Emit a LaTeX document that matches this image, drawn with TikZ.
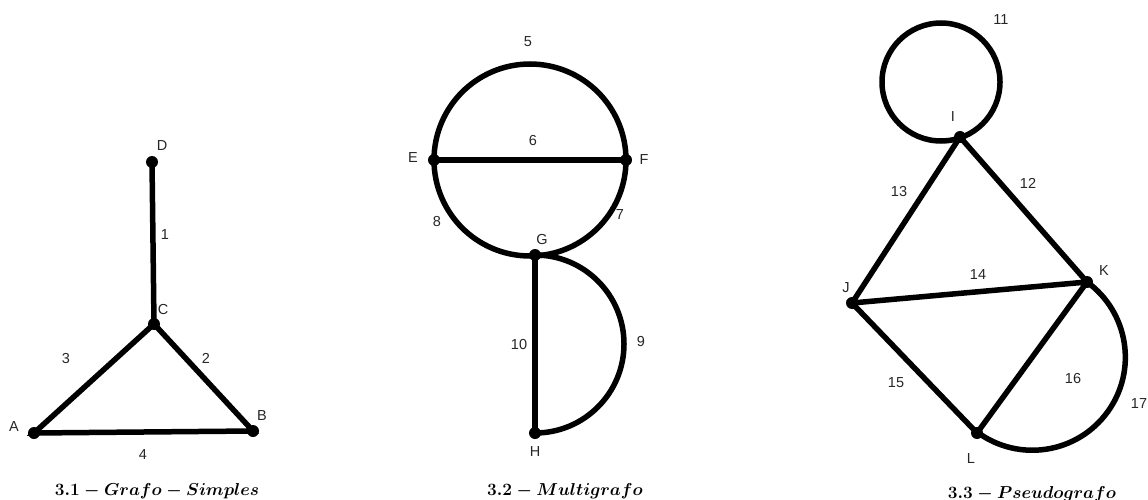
\documentclass[tikz,border=0pt]{standalone}
\usepackage{fontspec}
\setmainfont{Liberation Sans}
\begin{document}
\begin{tikzpicture}[x=1pt,y=-1pt,
  vtx/.style={circle,fill=black,inner sep=0pt,minimum size=12pt},
  edge/.style={line width=5.5pt},
  lbl/.style={font=\fontsize{14.5}{16}\selectfont,inner sep=0pt,text=black!85},
  captxt/.style={font=\fontsize{16.5}{18}\selectfont\boldmath,inner sep=0pt}]
\useasboundingbox (0,0) rectangle (1148,500);
% Graph 1
\node[vtx] (D) at (152,162) {};
\node[vtx] (C) at (154,324) {};
\node[vtx] (A) at (34,433) {};
\node[vtx] (B) at (253,431) {};
\draw[edge] (D.center) -- (C.center) -- (B.center) -- (A.center) -- (C.center);
\node[lbl] (lD) at (162,146) {D};
\node[lbl] (l1) at (165,235) {1};
\node[lbl] (lC) at (163,310) {C};
\node[lbl] (l3) at (66,359) {3};
\node[lbl] (l2) at (206,358) {2};
\node[lbl] (lA) at (14,427) {A};
\node[lbl] (lB) at (262,416) {B};
\node[lbl] (l4) at (143,455) {4};
\node[captxt] (c1) at (157,491) {$3.1 - Grafo - Simples$};
% Graph 2
\coordinate (O2) at (530,160);
\draw[edge] (O2) circle[radius=96];
\node[vtx] (E) at (434,160) {};
\node[vtx] (F) at (626,160) {};
\node[vtx] (G) at (535,255) {};
\node[vtx] (H) at (535,433) {};
\draw[edge] (E.center) -- (F.center);
\draw[edge] (G.center) -- (H.center);
\draw[edge] (G.center) arc[start angle=-90,end angle=90,radius=89];
\node[lbl] (l5) at (528,42) {5};
\node[lbl] (l6) at (533,141) {6};
\node[lbl] (lE) at (413,158) {E};
\node[lbl] (lF) at (644,160) {F};
\node[lbl] (l8) at (437,222) {8};
\node[lbl] (l7) at (620,215) {7};
\node[lbl] (lG) at (542,240) {G};
\node[lbl] (l10) at (519,345) {10};
\node[lbl] (l9) at (641,342) {9};
\node[lbl] (lH) at (535,452) {H};
\node[captxt] (c2) at (565,491) {$3.2 - Multigrafo$};
% Graph 3
\coordinate (O3) at (941,82);
\draw[edge] (O3) circle[radius=59];
\node[vtx] (I) at (960,137) {};
\node[vtx] (J) at (852,303) {};
\node[vtx] (K) at (1087,282) {};
\node[vtx] (L) at (977,433) {};
\draw[edge] (J.center) -- (I.center) -- (K.center) -- (J.center) -- (L.center) -- (K.center);
\draw[edge] (K.center) arc[start angle=-54,end angle=126,radius=93];
\node[lbl] (l11) at (1001,20) {11};
\node[lbl] (lI) at (953,117) {I};
\node[lbl] (l13) at (899,192) {13};
\node[lbl] (l12) at (1028,183) {12};
\node[lbl] (lJ) at (846,288) {J};
\node[lbl] (l14) at (978,275) {14};
\node[lbl] (lK) at (1104,271) {K};
\node[lbl] (l15) at (896,383) {15};
\node[lbl] (l16) at (1073,379) {16};
\node[lbl] (l17) at (1139,404) {17};
\node[lbl] (lL) at (971,459) {L};
\node[captxt] (c3) at (1032,494) {$3.3 - Pseudografo$};
\end{tikzpicture}
\end{document}
